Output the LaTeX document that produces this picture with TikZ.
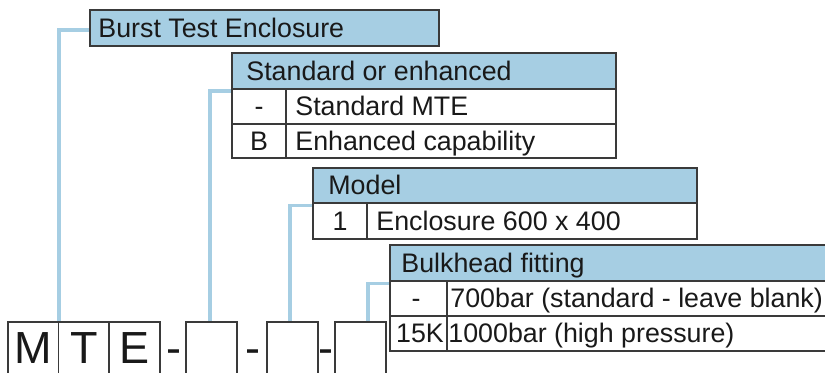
\documentclass[tikz,border=0pt]{standalone}
\usepackage{fontspec}
\setmainfont{Liberation Sans}
\usetikzlibrary{fit,backgrounds}
\definecolor{hdrblue}{RGB}{166,206,227}
\definecolor{linegray}{RGB}{58,58,58}
\begin{document}
\begin{tikzpicture}[x=0.5pt,y=-0.5pt,
  cell/.style={draw=linegray, line width=0.6pt, inner sep=0pt},
  hdr/.style={cell, fill=hdrblue},
  txt/.style={inner sep=0pt, font=\fontsize{13.4pt}{15pt}\selectfont, anchor=base west, text=black!90},
  ctr/.style={inner sep=0pt, font=\fontsize{13.4pt}{15pt}\selectfont, anchor=base, text=black!90},
  big/.style={inner sep=0pt, font=\fontsize{22.5pt}{26pt}\selectfont, anchor=base, text=black!90},
  conn/.style={draw=hdrblue, line width=1.75pt}]
\useasboundingbox (0,0) rectangle (825,373);
\clip (0,0) rectangle (825,373);

% Burst Test Enclosure
\node[hdr, fit={(90,10) (439,46)}] (h1) {};
\node[txt] (h1t) at (98,37.3) {Burst Test Enclosure};

% Standard or enhanced
\node[hdr, fit={(232,53) (616,89)}] (h2) {};
\node[txt] (h2t) at (246,80.3) {Standard or enhanced};
\node[cell, fit={(232,89) (286,124)}] (s1k) {};
\node[cell, fit={(286,89) (616,124)}] (s1v) {};
\node[cell, fit={(232,124) (286,158)}] (s2k) {};
\node[cell, fit={(286,124) (616,158)}] (s2v) {};
\node[ctr] (s1kt) at (259,115.8) {-};
\node[txt] (s1vt) at (295,115.8) {Standard MTE};
\node[ctr] (s2kt) at (259,150.3) {B};
\node[txt] (s2vt) at (295,150.3) {Enhanced capability};

% Model
\node[hdr, fit={(313,168) (697,203)}] (h3) {};
\node[txt] (h3t) at (328,194.8) {Model};
\node[cell, fit={(313,203) (367,239)}] (m1k) {};
\node[cell, fit={(367,203) (697,239)}] (m1v) {};
\node[ctr] (m1kt) at (340,230.3) {1};
\node[txt] (m1vt) at (376,230.3) {Enclosure 600 x 400};

% Bulkhead fitting
\node[hdr, fit={(390,245) (832,281)}] (h4) {};
\node[txt] (h4t) at (401,272.3) {Bulkhead fitting};
\node[cell, fit={(390,281) (447,316)}] (k1k) {};
\node[cell, fit={(447,281) (832,316)}] (k1v) {};
\node[cell, fit={(390,316) (447,351)}] (k2k) {};
\node[cell, fit={(447,316) (832,351)}] (k2v) {};
\node[ctr] (k1kt) at (416,307.8) {-};
\node[txt] (k1vt) at (450,307.8) {700bar (standard - leave blank)};
\node[ctr] (k2kt) at (420,342.8) {15K};
\node[txt] (k2vt) at (448,342.8) {1000bar (high pressure)};

% Bottom code boxes
\node[cell, fit={(8,322) (58.5,385)}] (b1) {};
\node[cell, fit={(58.5,322) (109,385)}] (b2) {};
\node[cell, fit={(109,322) (160,385)}] (b3) {};
\node[cell, fit={(186,322) (237,385)}] (b4) {};
\node[cell, fit={(267,322) (318,385)}] (b5) {};
\node[cell, fit={(335,322) (386,385)}] (b6) {};
\node[big] (l1) at (33,364) {M};
\node[big] (l2) at (84,364) {T};
\node[big] (l3) at (135,364) {E};
\node[big] (d1) at (174,364) {-};
\node[big] (d2) at (252.5,364) {-};
\node[big] (d3) at (325.5,364) {-};

% connector start points
\coordinate (c1) at (59,322);
\coordinate (c2) at (210,322);
\coordinate (c3) at (290,322);
\coordinate (c4) at (368,322);

\begin{pgfonlayer}{background}
\draw[conn] (c1) |- ([yshift=-1pt]h1.west);
\draw[conn] (c2) |- ([yshift=-0.75pt]h2.south west);
\draw[conn] (c3) |- ([yshift=-1pt]h3.south west);
\draw[conn] (c4) |- ([yshift=-1pt]h4.south west);
\end{pgfonlayer}
\end{tikzpicture}
\end{document}
